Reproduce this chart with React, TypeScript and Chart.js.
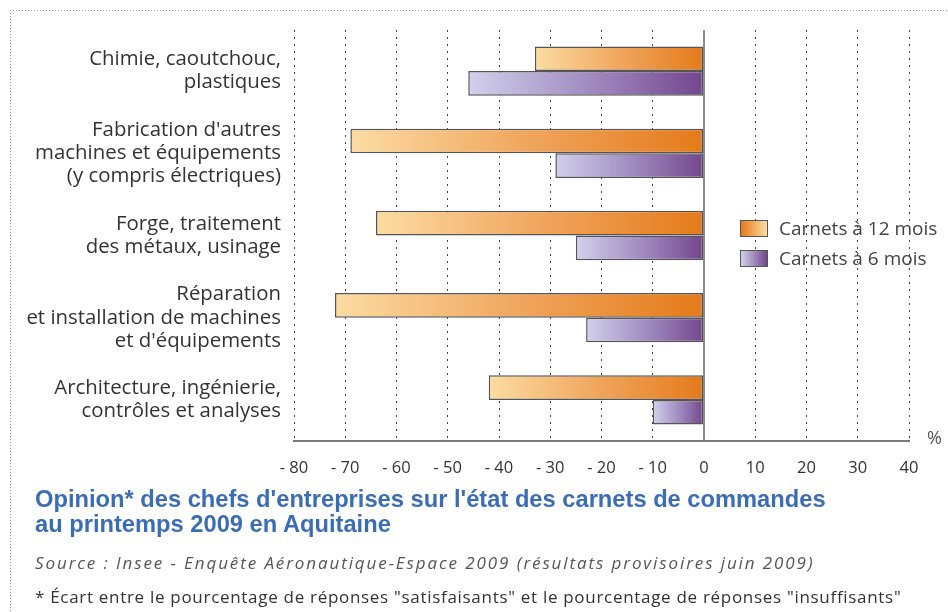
import React, { useEffect, useRef } from 'react';
import { Chart, registerables } from 'chart.js';

Chart.register(...registerables);

// ---------- data ----------
const categories: string[][] = [
  ['Chimie, caoutchouc,', 'plastiques'],
  ["Fabrication d'autres", 'machines et équipements', '(y compris électriques)'],
  ['Forge, traitement', 'des métaux, usinage'],
  ['Réparation', 'et installation de machines', "et d'équipements"],
  ['Architecture, ingénierie,', 'contrôles et analyses'],
];
const carnets12: number[] = [-33, -69, -64, -72, -42];
const carnets6: number[] = [-46, -29, -25, -23, -10];
const seriesLabels: string[] = ['Carnets à 12 mois', 'Carnets à 6 mois'];
const xMin = -80;
const xMax = 40;
const xStep = 10;
const unitLabel = '%';
const titleLines: string[] = [
  "Opinion* des chefs d'entreprises sur l'état des carnets de commandes",
  'au printemps 2009 en Aquitaine',
];
const sourceText = 'Source : Insee - Enquête Aéronautique-Espace 2009 (résultats provisoires juin 2009)';
const noteText = '* Écart entre le pourcentage de réponses "satisfaisants" et le pourcentage de réponses "insuffisants"';

// ---------- styles ----------
const orangeStops = ['#fcdca2', '#f0a65e', '#e57a1a'];
const purpleStops = ['#d2d0ec', '#a28dc2', '#73468d'];
const labelFont = '"Open Sans", Lato, sans-serif';

function barGradient(stops: string[]) {
  return (ctx: any) => {
    const chart = ctx.chart;
    const x = chart.scales && chart.scales.x;
    if (!x || ctx.type !== 'data' || !chart.chartArea) return stops[2];
    const v = ctx.raw as number;
    const p0 = x.getPixelForValue(0);
    const p1 = x.getPixelForValue(v);
    if (!isFinite(p0) || !isFinite(p1) || Math.abs(p0 - p1) < 1) return stops[2];
    const g = chart.ctx.createLinearGradient(p1, 0, p0, 0);
    g.addColorStop(0, stops[0]);
    g.addColorStop(0.5, stops[1]);
    g.addColorStop(1, stops[2]);
    return g;
  };
}

const framePlugin = {
  id: 'frame',
  beforeDraw(chart: any) {
    const c = chart.ctx;
    c.save();
    c.strokeStyle = '#9a9a9a';
    c.lineWidth = 1;
    c.setLineDash([1, 2]);
    c.beginPath();
    c.moveTo(10, 10.5);
    c.lineTo(chart.width, 10.5);
    c.moveTo(10.5, 10);
    c.lineTo(10.5, chart.height);
    c.stroke();
    c.restore();
  },
};

export default function App() {
  const ref = useRef<HTMLCanvasElement | null>(null);

  useEffect(() => {
    if (!ref.current) return;
    const chart = new Chart(ref.current, {
      type: 'bar',
      data: {
        labels: categories,
        datasets: [
          {
            label: seriesLabels[0],
            data: carnets12,
            backgroundColor: barGradient(orangeStops),
            borderColor: '#555555',
            borderWidth: 1.5,
            borderSkipped: false,
            categoryPercentage: 0.6,
            barPercentage: 1,
          },
          {
            label: seriesLabels[1],
            data: carnets6,
            backgroundColor: barGradient(purpleStops),
            borderColor: '#555555',
            borderWidth: 1.5,
            borderSkipped: false,
            categoryPercentage: 0.6,
            barPercentage: 1,
          },
        ],
      },
      options: {
        indexAxis: 'y',
        animation: false,
        responsive: false,
        maintainAspectRatio: false,
        layout: { padding: { top: 30, right: 39, bottom: 0, left: 0 } },
        plugins: {
          legend: { display: false },
          tooltip: { enabled: false },
          title: { display: false },
        },
        scales: {
          x: {
            type: 'linear',
            min: xMin,
            max: xMax,
            afterFit: (s: any) => { s.height = 171; },
            ticks: {
              stepSize: xStep,
              padding: 17,
              color: '#333333',
              font: { family: labelFont, size: 16.5 },
              callback: (v: any) => (Number(v) < 0 ? '- ' + Math.abs(Number(v)) : String(v)),
            },
            grid: {
              drawTicks: false,
              color: (ctx: any) => (ctx.tick && ctx.tick.value === 0 ? '#8a8a8a' : '#444444'),
              lineWidth: (ctx: any) => (ctx.tick && ctx.tick.value === 0 ? 2 : 1),
            },
            border: {
              display: true,
              color: '#7a7a7a',
              width: 2,
              dash: (ctx: any) => (ctx.tick && ctx.tick.value !== 0 ? [2, 5] : []),
            },
          },
          y: {
            type: 'category',
            afterFit: (s: any) => { s.width = 294; s.paddingTop = 0; s.paddingBottom = 0; },
            grid: { display: false, drawTicks: false },
            border: { display: false },
            ticks: {
              padding: 13,
              color: '#333333',
              font: { family: labelFont, size: 20.4, lineHeight: 1.13 },
            },
          },
        },
      },
      plugins: [framePlugin],
    } as any);
    return () => chart.destroy();
  }, []);

  const text = (extra: React.CSSProperties): React.CSSProperties => ({
    position: 'absolute',
    whiteSpace: 'nowrap',
    margin: 0,
    ...extra,
  });

  return (
    <div style={{ position: 'absolute', left: 0, top: 0, width: 948, height: 612, background: '#ffffff', overflow: 'hidden' }}>
      <canvas ref={ref} width={948} height={612} style={{ position: 'absolute', left: 0, top: 0, width: 948, height: 612 }} />
      {/* legend */}
      <div style={text({ left: 740, top: 220, width: 28, height: 17, boxSizing: 'border-box', border: '1.5px solid #555', background: `linear-gradient(to right, ${orangeStops[2]}, ${orangeStops[0]})` })} />
      <div style={text({ left: 779, top: 216, fontFamily: labelFont, fontSize: 19, lineHeight: '24px', color: '#444' })}>{seriesLabels[0]}</div>
      <div style={text({ left: 740, top: 250, width: 28, height: 17, boxSizing: 'border-box', border: '1.5px solid #555', background: `linear-gradient(to right, ${purpleStops[0]}, ${purpleStops[2]})` })} />
      <div style={text({ left: 779, top: 246, fontFamily: labelFont, fontSize: 19, lineHeight: '24px', color: '#444' })}>{seriesLabels[1]}</div>
      {/* unit */}
      <div style={text({ left: 927, top: 425, fontFamily: labelFont, fontSize: 18, lineHeight: '24px', color: '#555' })}>{unitLabel}</div>
      {/* title */}
      <div style={text({ left: 35, top: 487, fontFamily: '"Liberation Sans", Arial, sans-serif', fontWeight: 'bold', fontSize: 23.7, lineHeight: '25px', color: '#3b6db5' })}>
        {titleLines.map((l, i) => (<div key={i}>{l}</div>))}
      </div>
      <div style={text({ left: 35, top: 551, fontFamily: labelFont, fontStyle: 'italic', fontSize: 17, letterSpacing: '1.9px', lineHeight: '24px', color: '#555' })}>{sourceText}</div>
      <div style={text({ left: 35, top: 585, fontFamily: labelFont, fontSize: 17, letterSpacing: '0.7px', lineHeight: '24px', color: '#333' })}>{noteText}</div>
    </div>
  );
}
